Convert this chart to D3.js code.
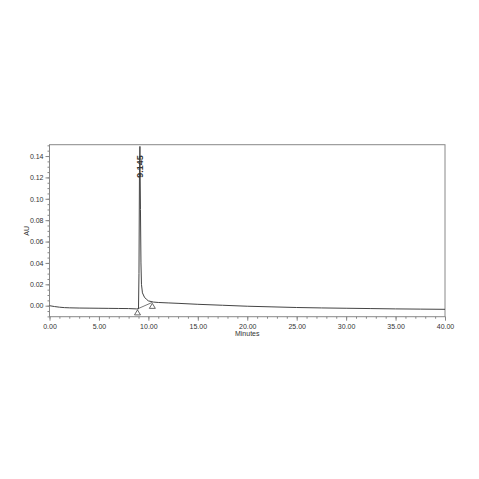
<!DOCTYPE html>
<html lang="en">
<head>
<meta charset="UTF-8" />
<script src="https://d3js.org/d3.v7.min.js"></script>
<style>
    body { margin: 0; background: #fff; }
    svg text { font-family: "Liberation Sans", Arial, sans-serif; fill: #333; }
</style>
</head>
<body>
<svg></svg>
<script>
    // chromatogram trace (minutes, AU)
    let minutes = [0, 0.5, 1, 1.5, 2, 3, 4, 5, 6, 7, 8, 8.8, 9.0, 9.05, 9.1, 9.145, 9.2, 9.25, 9.3, 9.4, 9.6, 9.8, 10.0, 10.5, 11, 12, 13, 15, 17.5, 20, 22.5, 25, 27.5, 30, 32.5, 35, 37.5, 40];
    let au = [0.0, -0.0008, -0.0014, -0.0018, -0.002, -0.0022, -0.0023, -0.0024, -0.0025, -0.0026, -0.0027, -0.003, -0.003, 0.03, 0.125, 0.149, 0.09, 0.04, 0.02, 0.012, 0.008, 0.006, 0.0045, 0.0034, 0.003, 0.0026, 0.0022, 0.0013, 0.0004, -0.0005, -0.0011, -0.0017, -0.0021, -0.0024, -0.0027, -0.003, -0.0032, -0.0034];

    // integration baseline ends
    let baseT = [8.9, 10.4];
    let baseV = [-0.003, 0.0031];

    let peakT = 9.145, peakV = 0.149, peakLabel = "9.145";

    let xTicks = [0, 5, 10, 15, 20, 25, 30, 35, 40];
    let yTicks = [0, 0.02, 0.04, 0.06, 0.08, 0.10, 0.12, 0.14];

    let width = 479, height = 479;
    let svg = d3.select("svg").attr("width", width).attr("height", height);

    let x = d3.scaleLinear().domain([0, 40]).range([49.5, 445]);
    let y = d3.scaleLinear().domain([-0.0103, 0.1506]).range([316.7, 144.7]);

    // frame
    svg.append("rect")
        .attr("x", x(0)).attr("y", y(0.1506))
        .attr("width", x(40) - x(0)).attr("height", y(-0.0103) - y(0.1506))
        .attr("fill", "none").attr("stroke", "#888").attr("stroke-width", 1);

    // x axis
    let xAxis = svg.append("g").attr("transform", "translate(0," + y(-0.0103) + ")");
    xAxis.call(d3.axisBottom(x).tickValues(d3.range(0, 41, 1)).tickSize(2).tickFormat(""))
        .call(g => g.select(".domain").remove())
        .call(g => g.selectAll("line").attr("stroke", "#888"));
    xAxis.append("g").call(d3.axisBottom(x).tickValues(xTicks).tickSize(4).tickPadding(3)
            .tickFormat(d3.format(".2f")))
        .call(g => g.select(".domain").remove())
        .call(g => g.selectAll("line").attr("stroke", "#888"))
        .call(g => g.selectAll("text").attr("font-size", 7).attr("fill", "#333")
            .attr("font-family", "Liberation Sans, Arial, sans-serif"));

    // y axis
    let yAxis = svg.append("g").attr("transform", "translate(" + x(0) + ",0)");
    yAxis.call(d3.axisLeft(y).tickValues(d3.range(-0.01, 0.1501, 0.005)).tickSize(2).tickFormat(""))
        .call(g => g.select(".domain").remove())
        .call(g => g.selectAll("line").attr("stroke", "#888"));
    yAxis.append("g").call(d3.axisLeft(y).tickValues(yTicks).tickSize(4).tickPadding(2)
            .tickFormat(d3.format(".2f")))
        .call(g => g.select(".domain").remove())
        .call(g => g.selectAll("line").attr("stroke", "#888"))
        .call(g => g.selectAll("text").attr("font-size", 7).attr("fill", "#333")
            .attr("font-family", "Liberation Sans, Arial, sans-serif"));

    // axis titles
    svg.append("text").attr("x", (x(0) + x(40)) / 2).attr("y", 336)
        .attr("text-anchor", "middle").attr("font-size", 7).text("Minutes");
    svg.append("text").attr("transform", "translate(29," + y(0.07) + ") rotate(-90)")
        .attr("text-anchor", "middle").attr("font-size", 7).text("AU");

    // integration baseline
    svg.append("line")
        .attr("x1", x(baseT[0])).attr("y1", y(baseV[0]))
        .attr("x2", x(baseT[1])).attr("y2", y(baseV[1]))
        .attr("stroke", "#555").attr("stroke-width", 0.8);

    // trace
    let line = d3.line().x((d, i) => x(minutes[i])).y(d => y(d));
    svg.append("path").datum(au)
        .attr("d", line)
        .attr("fill", "none").attr("stroke", "#444").attr("stroke-width", 1);

    // baseline markers
    svg.selectAll(".mark").data(baseT).enter().append("path")
        .attr("class", "mark")
        .attr("d", (d, i) => {
            let px = x(d), py = y(baseV[i]) + 1;
            return "M" + px + "," + py + "L" + (px + 3) + "," + (py + 5) + "L" + (px - 3) + "," + (py + 5) + "Z";
        })
        .attr("fill", "#fff").attr("stroke", "#444").attr("stroke-width", 0.8);

    // peak label
    svg.append("text")
        .attr("transform", "translate(" + (x(peakT) + 3) + "," + (y(peakV) + 20) + ") rotate(-90)")
        .attr("text-anchor", "middle").attr("font-size", 9).attr("font-weight", "bold")
        .text(peakLabel);
</script>
</body>
</html>
